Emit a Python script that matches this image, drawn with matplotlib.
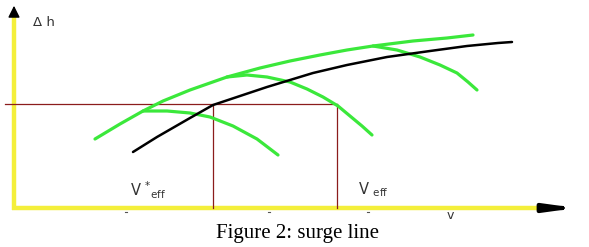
import matplotlib
matplotlib.use("Agg")
import matplotlib.pyplot as plt

# curve points (pixel-like units, y grows downward)
surge_x = [95, 120, 143, 163, 190, 227, 260, 290, 320, 347, 373, 413, 447, 473]
surge_y = [139, 124, 111, 101, 90, 77, 68, 61, 55, 50, 46, 41, 38, 35]

black_x = [133, 157, 190, 213, 240, 267, 290, 313, 347, 387, 430, 467, 498, 512]
black_y = [152, 137, 118, 105, 96, 87, 80, 73, 65, 57, 51, 46, 43, 42]

char1_x = [143, 167, 190, 210, 233, 257, 278]
char1_y = [111, 111, 113, 117, 126, 139, 155]

char2_x = [227, 247, 267, 290, 307, 323, 338, 350, 362, 372]
char2_y = [77, 75, 77, 82, 89, 97, 106, 116, 126, 135]

char3_x = [373, 397, 420, 440, 457, 468, 477]
char3_y = [46, 50, 57, 65, 73, 82, 90]

op_h = 104        # operating head level
v_star = 213      # V*eff
v_eff = 337       # Veff
axis_y = 208
axis_x = 14

fig = plt.figure(figsize=(5.89, 2.47), dpi=100)
ax = fig.add_axes([0, 0, 1, 1])
ax.set_xlim(0, 589)
ax.set_ylim(247, 0)
ax.axis("off")

yellow = "#f4ef3a"
green = "#3be83b"
red = "#8b1c1c"

# axes
ax.plot([axis_x, axis_x], [axis_y + 2, 14], color=yellow, lw=3.2, solid_capstyle="butt")
ax.plot([axis_x - 2, 553], [axis_y, axis_y], color=yellow, lw=3.2, solid_capstyle="butt")
ax.annotate("", xy=(axis_x, 3), xytext=(axis_x, 16),
            arrowprops=dict(arrowstyle="-|>,head_length=0.7,head_width=0.35",
                            color="black", lw=1))
ax.annotate("", xy=(579, axis_y), xytext=(552, axis_y),
            arrowprops=dict(arrowstyle="-|>,head_length=1.6,head_width=0.22",
                            color="black", lw=3))

# small ticks under the axis
for tx in [125, 268, 367]:
    ax.plot([tx, tx + 1.5], [axis_y + 3.5, axis_y + 3.5], color="#555555", lw=0.8)

# operating point lines
ax.plot([5, v_eff], [op_h, op_h], color=red, lw=0.9)
ax.plot([v_eff, v_eff], [op_h, axis_y], color=red, lw=0.9)
ax.plot([v_star, v_star], [105, axis_y], color=red, lw=0.9)

# curves
for cx, cy in [(char1_x, char1_y), (char2_x, char2_y), (char3_x, char3_y)]:
    ax.plot(cx, cy, color=green, lw=2.3, solid_capstyle="round", solid_joinstyle="round")
ax.plot(surge_x, surge_y, color=green, lw=2.3, solid_capstyle="round", solid_joinstyle="round")
ax.plot(black_x, black_y, color="black", lw=1.8, solid_capstyle="round", solid_joinstyle="round")

# labels
ax.text(33, 23, "Δ h", fontsize=9.5, family="DejaVu Sans", color="#333333", va="center")
ax.text(130, 190, r"V $^{*}$$_{\rm eff}$", fontsize=10.5, family="DejaVu Sans",
        color="#333333", va="center")
ax.text(358, 190, r"V $_{\rm eff}$", fontsize=10.5, family="DejaVu Sans",
        color="#333333", va="center")
ax.text(450, 215, "v", fontsize=9, family="DejaVu Sans", color="#333333",
        ha="center", va="center")

ax.text(297, 233, "Figure 2: surge line", fontsize=15, family="Liberation Serif",
        ha="center", va="center")

fig.savefig("out.png", dpi=100)
